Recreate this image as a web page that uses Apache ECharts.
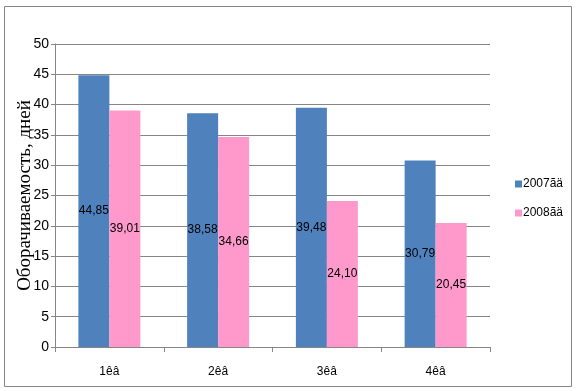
<!DOCTYPE html>
<html><head><meta charset="utf-8">
<script src="https://cdn.jsdelivr.net/npm/echarts@6/dist/echarts.min.js"></script>
<style>html,body{margin:0;padding:0;background:#fff}#c{width:577px;height:391px}</style>
</head><body><div id="c"></div>
<script>
var categories = ['1êâ', '2êâ', '3êâ', '4êâ'];
var series2007 = [44.85, 38.58, 39.48, 30.79];
var series2008 = [39.01, 34.66, 24.10, 20.45];
var seriesNames = ['2007ãä', '2008ãä'];
var yTitle = 'Оборачиваемость, дней';

var narrow = '"Liberation Sans Narrow","Arial Narrow","Liberation Sans",sans-serif';
function fmt(p){ return p.value.toFixed(2).replace('.', ','); }
var chart = echarts.init(document.getElementById('c'));
chart.setOption({
  animation: false,
  graphic: [{type:'rect', shape:{x:4.5,y:6.5,width:567,height:380}, style:{fill:'none', stroke:'#868686', lineWidth:1}, silent:true}],
  grid: {left:55, right:87, top:44, bottom:44, outerBoundsMode:'none', containLabel:false},
  legend: {
    orient:'vertical', left:510, top:173, itemGap:17, itemWidth:7, itemHeight:7, icon:'rect',
    textStyle:{fontFamily:narrow, fontSize:12, color:'#000', padding:[0,0,0,-4]},
    data: seriesNames
  },
  xAxis: {
    type:'category', data:categories,
    axisLine:{lineStyle:{color:'#868686'}},
    axisTick:{show:true, length:5, lineStyle:{color:'#868686'}},
    axisLabel:{fontFamily:narrow, fontSize:12, color:'#000', margin:19}
  },
  yAxis: {
    type:'value', min:0, max:50, interval:5,
    name: yTitle, nameLocation:'middle', nameGap:20, nameMoveOverlap:false,
    nameTextStyle:{fontFamily:'"Liberation Serif","Times New Roman",serif', fontSize:19, color:'#000'},
    axisLine:{show:true, lineStyle:{color:'#868686'}},
    axisTick:{show:true, length:4, lineStyle:{color:'#868686'}},
    axisLabel:{fontFamily:narrow, fontSize:14, color:'#000', margin:6},
    splitLine:{lineStyle:{color:'#868686'}}
  },
  series: [
    {name:seriesNames[0], type:'bar', data:series2007, barGap:'0%', barCategoryGap:'43%',
     itemStyle:{color:'#4F81BD'},
     label:{show:true, position:'inside', formatter:fmt, fontFamily:narrow, fontSize:12, color:'#000'}},
    {name:seriesNames[1], type:'bar', data:series2008,
     itemStyle:{color:'#FF99CC'},
     label:{show:true, position:'inside', formatter:fmt, fontFamily:narrow, fontSize:12, color:'#000'}}
  ]
});
</script></body></html>
